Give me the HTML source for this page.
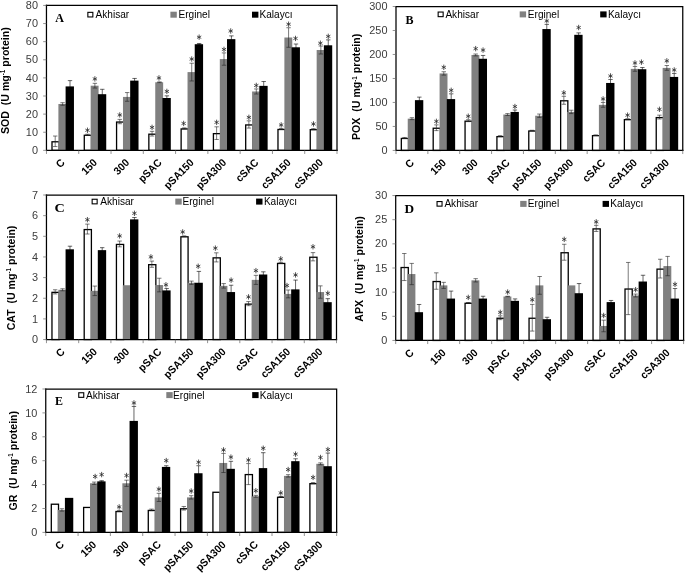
<!DOCTYPE html>
<html><head><meta charset="utf-8"><title>Figure</title>
<style>
html,body{margin:0;padding:0;background:#fff;}
svg{display:block;filter:grayscale(1);}
text{font-family:"Liberation Sans",sans-serif;}
.tk{font-size:10.2px;fill:#3c3c3c;text-anchor:end;}
.ct{font-size:10.8px;font-weight:bold;fill:#000;text-anchor:end;}
.yt{font-size:10.9px;font-weight:bold;fill:#000;text-anchor:end;}
.sup{font-size:6.5px;}
.lg{font-size:10.1px;fill:#000;}
.pl{font-family:"Liberation Serif",serif;font-weight:bold;font-size:12px;fill:#000;}
.as{stroke:#2a2a2a;stroke-width:0.8;stroke-linecap:round;fill:none;}
.st{font-family:"Liberation Serif",serif;font-size:13.5px;fill:#333;text-anchor:middle;}
</style></head><body>
<svg width="685" height="574" viewBox="0 0 685 574">
<rect width="685" height="574" fill="#fff"/>
<g>
<rect x="52" y="141.79" width="7.2" height="8.56" fill="#fff" stroke="#000" stroke-width="1.3"/>
<rect x="58.4" y="103.98" width="7.9" height="46.37" fill="#808080"/>
<rect x="65.6" y="86.41" width="8.35" height="63.94" fill="#000"/>
<rect x="84.28" y="135.27" width="7.2" height="15.08" fill="#fff" stroke="#000" stroke-width="1.3"/>
<rect x="90.68" y="85.69" width="7.9" height="64.66" fill="#808080"/>
<rect x="97.88" y="94.2" width="8.35" height="56.15" fill="#000"/>
<rect x="116.57" y="122.05" width="7.2" height="28.3" fill="#fff" stroke="#000" stroke-width="1.3"/>
<rect x="122.97" y="96.92" width="7.9" height="53.43" fill="#808080"/>
<rect x="130.17" y="80.62" width="8.35" height="69.73" fill="#000"/>
<rect x="148.85" y="134.19" width="7.2" height="16.16" fill="#fff" stroke="#000" stroke-width="1.3"/>
<rect x="155.25" y="82.25" width="7.9" height="68.1" fill="#808080"/>
<rect x="162.45" y="98" width="8.35" height="52.35" fill="#000"/>
<rect x="181.13" y="128.93" width="7.2" height="21.42" fill="#fff" stroke="#000" stroke-width="1.3"/>
<rect x="187.53" y="72.1" width="7.9" height="78.25" fill="#808080"/>
<rect x="194.73" y="44.21" width="8.35" height="106.14" fill="#000"/>
<rect x="213.41" y="133.64" width="7.2" height="16.71" fill="#fff" stroke="#000" stroke-width="1.3"/>
<rect x="219.81" y="59.06" width="7.9" height="91.29" fill="#808080"/>
<rect x="227.01" y="39.14" width="8.35" height="111.21" fill="#000"/>
<rect x="245.69" y="124.95" width="7.2" height="25.4" fill="#fff" stroke="#000" stroke-width="1.3"/>
<rect x="252.09" y="91.48" width="7.9" height="58.87" fill="#808080"/>
<rect x="259.29" y="85.87" width="8.35" height="64.48" fill="#000"/>
<rect x="277.98" y="129.48" width="7.2" height="20.87" fill="#fff" stroke="#000" stroke-width="1.3"/>
<rect x="284.38" y="37.51" width="7.9" height="112.84" fill="#808080"/>
<rect x="291.58" y="47.29" width="8.35" height="103.06" fill="#000"/>
<rect x="310.26" y="129.66" width="7.2" height="20.69" fill="#fff" stroke="#000" stroke-width="1.3"/>
<rect x="316.66" y="50.01" width="7.9" height="100.34" fill="#808080"/>
<rect x="323.86" y="45.3" width="8.35" height="105.05" fill="#000"/>
<path d="M55.2 136.04V146.55M53 136.04H57.4M53 146.55H57.4" stroke="#222" stroke-width="0.6" fill="none"/>
<path d="M62.6 102.71V105.25M60.4 102.71H64.8M60.4 105.25H64.8" stroke="#222" stroke-width="0.6" fill="none"/>
<path d="M70 80.62V92.21M67.8 80.62H72.2M67.8 92.21H72.2" stroke="#000" stroke-width="0.6" fill="none"/>
<path d="M87.48 134.23V135.32M85.28 134.23H89.68M85.28 135.32H89.68" stroke="#222" stroke-width="0.6" fill="none"/>
<path class="as" transform="translate(87.48 130.26)" d="M0 -2.3V2.3M-1.8 -1.05L1.8 1.05M-1.8 1.05L1.8 -1.05"/>
<path d="M94.88 83.33V88.04M92.68 83.33H97.08M92.68 88.04H97.08" stroke="#222" stroke-width="0.6" fill="none"/>
<path class="as" transform="translate(94.88 78.9)" d="M0 -2.3V2.3M-1.8 -1.05L1.8 1.05M-1.8 1.05L1.8 -1.05"/>
<path d="M102.28 89.31V99.09M100.08 89.31H104.48M100.08 99.09H104.48" stroke="#000" stroke-width="0.6" fill="none"/>
<path d="M119.77 119.38V123.72M117.57 119.38H121.97M117.57 123.72H121.97" stroke="#222" stroke-width="0.6" fill="none"/>
<path class="as" transform="translate(119.77 114.94)" d="M0 -2.3V2.3M-1.8 -1.05L1.8 1.05M-1.8 1.05L1.8 -1.05"/>
<path d="M127.17 92.57V101.27M124.97 92.57H129.37M124.97 101.27H129.37" stroke="#222" stroke-width="0.6" fill="none"/>
<path d="M134.57 78.44V82.79M132.37 78.44H136.77M132.37 82.79H136.77" stroke="#000" stroke-width="0.6" fill="none"/>
<path d="M152.05 131.33V136.04M149.85 131.33H154.25M149.85 136.04H154.25" stroke="#222" stroke-width="0.6" fill="none"/>
<path class="as" transform="translate(152.05 127.36)" d="M0 -2.3V2.3M-1.8 -1.05L1.8 1.05M-1.8 1.05L1.8 -1.05"/>
<path d="M159.45 81.88V82.61M157.25 81.88H161.65M157.25 82.61H161.65" stroke="#222" stroke-width="0.6" fill="none"/>
<path class="as" transform="translate(158.98 77.92)" d="M0 -2.3V2.3M-1.8 -1.05L1.8 1.05M-1.8 1.05L1.8 -1.05"/>
<path d="M166.85 95.83V100.18M164.65 95.83H169.05M164.65 100.18H169.05" stroke="#000" stroke-width="0.6" fill="none"/>
<path class="as" transform="translate(166.85 91.4)" d="M0 -2.3V2.3M-1.8 -1.05L1.8 1.05M-1.8 1.05L1.8 -1.05"/>
<path d="M184.33 127.89V128.98M182.13 127.89H186.53M182.13 128.98H186.53" stroke="#222" stroke-width="0.6" fill="none"/>
<path class="as" transform="translate(183.63 123.46)" d="M0 -2.3V2.3M-1.8 -1.05L1.8 1.05M-1.8 1.05L1.8 -1.05"/>
<path d="M191.73 63.23V80.98M189.53 63.23H193.93M189.53 80.98H193.93" stroke="#222" stroke-width="0.6" fill="none"/>
<path class="as" transform="translate(191.73 59.03)" d="M0 -2.3V2.3M-1.8 -1.05L1.8 1.05M-1.8 1.05L1.8 -1.05"/>
<path d="M199.13 43.49V44.94M196.93 43.49H201.33M196.93 44.94H201.33" stroke="#000" stroke-width="0.6" fill="none"/>
<path class="as" transform="translate(199.13 37.18)" d="M0 -2.3V2.3M-1.8 -1.05L1.8 1.05M-1.8 1.05L1.8 -1.05"/>
<path d="M216.61 126.8V139.48M214.41 126.8H218.81M214.41 139.48H218.81" stroke="#222" stroke-width="0.6" fill="none"/>
<path class="as" transform="translate(216.61 122.37)" d="M0 -2.3V2.3M-1.8 -1.05L1.8 1.05M-1.8 1.05L1.8 -1.05"/>
<path d="M224.01 52.9V65.22M221.81 52.9H226.21M221.81 65.22H226.21" stroke="#222" stroke-width="0.6" fill="none"/>
<path class="as" transform="translate(224.01 49.4)" d="M0 -2.3V2.3M-1.8 -1.05L1.8 1.05M-1.8 1.05L1.8 -1.05"/>
<path d="M231.41 35.88V42.4M229.21 35.88H233.61M229.21 42.4H233.61" stroke="#000" stroke-width="0.6" fill="none"/>
<path class="as" transform="translate(230.71 30.98)" d="M0 -2.3V2.3M-1.8 -1.05L1.8 1.05M-1.8 1.05L1.8 -1.05"/>
<path d="M248.89 120.83V128.07M246.69 120.83H251.09M246.69 128.07H251.09" stroke="#222" stroke-width="0.6" fill="none"/>
<path class="as" transform="translate(248.89 117.33)" d="M0 -2.3V2.3M-1.8 -1.05L1.8 1.05M-1.8 1.05L1.8 -1.05"/>
<path d="M256.29 88.95V94.02M254.09 88.95H258.49M254.09 94.02H258.49" stroke="#222" stroke-width="0.6" fill="none"/>
<path class="as" transform="translate(256.29 85.45)" d="M0 -2.3V2.3M-1.8 -1.05L1.8 1.05M-1.8 1.05L1.8 -1.05"/>
<path d="M263.69 81.52V90.22M261.49 81.52H265.89M261.49 90.22H265.89" stroke="#000" stroke-width="0.6" fill="none"/>
<path d="M281.18 128.43V129.52M278.98 128.43H283.38M278.98 129.52H283.38" stroke="#222" stroke-width="0.6" fill="none"/>
<path class="as" transform="translate(281.18 124.93)" d="M0 -2.3V2.3M-1.8 -1.05L1.8 1.05M-1.8 1.05L1.8 -1.05"/>
<path d="M288.58 27.73V47.29M286.38 27.73H290.78M286.38 47.29H290.78" stroke="#222" stroke-width="0.6" fill="none"/>
<path class="as" transform="translate(288.58 24.23)" d="M0 -2.3V2.3M-1.8 -1.05L1.8 1.05M-1.8 1.05L1.8 -1.05"/>
<path d="M295.98 44.03V50.55M293.78 44.03H298.18M293.78 50.55H298.18" stroke="#000" stroke-width="0.6" fill="none"/>
<path class="as" transform="translate(295.51 38.43)" d="M0 -2.3V2.3M-1.8 -1.05L1.8 1.05M-1.8 1.05L1.8 -1.05"/>
<path d="M313.46 128.62V129.7M311.26 128.62H315.66M311.26 129.7H315.66" stroke="#222" stroke-width="0.6" fill="none"/>
<path class="as" transform="translate(313.46 123.95)" d="M0 -2.3V2.3M-1.8 -1.05L1.8 1.05M-1.8 1.05L1.8 -1.05"/>
<path d="M320.86 46.02V53.99M318.66 46.02H323.06M318.66 53.99H323.06" stroke="#222" stroke-width="0.6" fill="none"/>
<path class="as" transform="translate(320.39 43.22)" d="M0 -2.3V2.3M-1.8 -1.05L1.8 1.05M-1.8 1.05L1.8 -1.05"/>
<path d="M328.26 39.86V50.73M326.06 39.86H330.46M326.06 50.73H330.46" stroke="#000" stroke-width="0.6" fill="none"/>
<path class="as" transform="translate(328.26 36.36)" d="M0 -2.3V2.3M-1.8 -1.05L1.8 1.05M-1.8 1.05L1.8 -1.05"/>
<path d="M46.46 5.45H337V150.35" stroke="#000" stroke-width="1.25" fill="none" stroke-linecap="square"/>
<path d="M46.46 5.45V150.35H337" stroke="#000" stroke-width="1.25" fill="none" stroke-linecap="square"/>
<text class="tk" transform="translate(37.96 153.95) scale(1.07 1)">0</text>
<text class="tk" transform="translate(37.96 135.84) scale(1.07 1)">10</text>
<text class="tk" transform="translate(37.96 117.72) scale(1.07 1)">20</text>
<text class="tk" transform="translate(37.96 99.61) scale(1.07 1)">30</text>
<text class="tk" transform="translate(37.96 81.5) scale(1.07 1)">40</text>
<text class="tk" transform="translate(37.96 63.39) scale(1.07 1)">50</text>
<text class="tk" transform="translate(37.96 45.27) scale(1.07 1)">60</text>
<text class="tk" transform="translate(37.96 27.16) scale(1.07 1)">70</text>
<text class="tk" transform="translate(37.96 9.05) scale(1.07 1)">80</text>
<path d="M43.16 150.35H46.46M43.16 132.24H46.46M43.16 114.12H46.46M43.16 96.01H46.46M43.16 77.9H46.46M43.16 59.79H46.46M43.16 41.67H46.46M43.16 23.56H46.46M43.16 5.45H46.46M46.46 150.35V153.95M78.74 150.35V153.95M111.02 150.35V153.95M143.31 150.35V153.95M175.59 150.35V153.95M207.87 150.35V153.95M240.15 150.35V153.95M272.44 150.35V153.95M304.72 150.35V153.95M337 150.35V153.95" stroke="#666" stroke-width="0.7" fill="none"/>
<text class="ct" transform="translate(65.5 163.35) rotate(-45) scale(0.945 1)">C</text>
<text class="ct" transform="translate(97.78 163.35) rotate(-45) scale(0.945 1)">150</text>
<text class="ct" transform="translate(130.07 163.35) rotate(-45) scale(0.945 1)">300</text>
<text class="ct" transform="translate(162.35 163.35) rotate(-45) scale(0.945 1)">pSAC</text>
<text class="ct" transform="translate(194.63 163.35) rotate(-45) scale(0.945 1)">pSA150</text>
<text class="ct" transform="translate(226.91 163.35) rotate(-45) scale(0.945 1)">pSA300</text>
<text class="ct" transform="translate(259.19 163.35) rotate(-45) scale(0.945 1)">cSAC</text>
<text class="ct" transform="translate(291.48 163.35) rotate(-45) scale(0.945 1)">cSA150</text>
<text class="ct" transform="translate(323.76 163.35) rotate(-45) scale(0.945 1)">cSA300</text>
<text class="yt" transform="translate(9 27.3) rotate(-90) scale(0.972 1)">SOD&#160;&#160;(U mg<tspan class="sup" dy="-3.8">-1</tspan><tspan dy="3.8"> protein)</tspan></text>
<rect x="87.85" y="12.35" width="5.0" height="4.6" fill="#fff" stroke="#000" stroke-width="1.1"/>
<text class="lg" x="95.5" y="18.1">Akhisar</text>
<rect x="170.4" y="11.7" width="6.4" height="6.0" fill="#808080"/>
<text class="lg" x="178.5" y="18.1">Erginel</text>
<rect x="252" y="11.7" width="6.4" height="6.0" fill="#000"/>
<text class="lg" x="259.5" y="18.1">Kalaycı</text>
<text class="pl" style="font-size:12px" transform="translate(55.3 22) scale(1 1)">A</text>
</g>
<g>
<rect x="401.33" y="138.46" width="7.2" height="11.97" fill="#fff" stroke="#000" stroke-width="1.3"/>
<rect x="407.73" y="118.67" width="7.9" height="31.76" fill="#808080"/>
<rect x="414.93" y="100.15" width="8.35" height="50.28" fill="#000"/>
<rect x="433.19" y="128.24" width="7.2" height="22.19" fill="#fff" stroke="#000" stroke-width="1.3"/>
<rect x="439.59" y="73.43" width="7.9" height="77" fill="#808080"/>
<rect x="446.79" y="99.09" width="8.35" height="51.34" fill="#000"/>
<rect x="465.06" y="121.18" width="7.2" height="29.25" fill="#fff" stroke="#000" stroke-width="1.3"/>
<rect x="471.46" y="54.96" width="7.9" height="95.47" fill="#808080"/>
<rect x="478.66" y="58.79" width="8.35" height="91.64" fill="#000"/>
<rect x="496.92" y="136.63" width="7.2" height="13.8" fill="#fff" stroke="#000" stroke-width="1.3"/>
<rect x="503.32" y="114.54" width="7.9" height="35.89" fill="#808080"/>
<rect x="510.52" y="111.95" width="8.35" height="38.48" fill="#000"/>
<rect x="528.78" y="131.02" width="7.2" height="19.41" fill="#fff" stroke="#000" stroke-width="1.3"/>
<rect x="535.18" y="115.74" width="7.9" height="34.69" fill="#808080"/>
<rect x="542.38" y="29.05" width="8.35" height="121.38" fill="#000"/>
<rect x="560.64" y="100.79" width="7.2" height="49.64" fill="#fff" stroke="#000" stroke-width="1.3"/>
<rect x="567.04" y="111.9" width="7.9" height="38.53" fill="#808080"/>
<rect x="574.24" y="34.81" width="8.35" height="115.62" fill="#000"/>
<rect x="592.5" y="135.67" width="7.2" height="14.76" fill="#fff" stroke="#000" stroke-width="1.3"/>
<rect x="598.9" y="104.85" width="7.9" height="45.58" fill="#808080"/>
<rect x="606.1" y="82.97" width="8.35" height="67.46" fill="#000"/>
<rect x="624.37" y="119.65" width="7.2" height="30.78" fill="#fff" stroke="#000" stroke-width="1.3"/>
<rect x="630.77" y="68.87" width="7.9" height="81.56" fill="#808080"/>
<rect x="637.97" y="69.21" width="8.35" height="81.22" fill="#000"/>
<rect x="656.23" y="117.59" width="7.2" height="32.84" fill="#fff" stroke="#000" stroke-width="1.3"/>
<rect x="662.63" y="67.91" width="7.9" height="82.52" fill="#808080"/>
<rect x="669.83" y="76.93" width="8.35" height="73.5" fill="#000"/>
<path d="M404.53 137.48V138.44M402.33 137.48H406.73M402.33 138.44H406.73" stroke="#222" stroke-width="0.6" fill="none"/>
<path d="M411.93 117.71V119.63M409.73 117.71H414.13M409.73 119.63H414.13" stroke="#222" stroke-width="0.6" fill="none"/>
<path d="M419.33 97.13V103.17M417.13 97.13H421.53M417.13 103.17H421.53" stroke="#000" stroke-width="0.6" fill="none"/>
<path d="M436.39 124.86V130.62M434.19 124.86H438.59M434.19 130.62H438.59" stroke="#222" stroke-width="0.6" fill="none"/>
<path class="as" transform="translate(436.39 121.36)" d="M0 -2.3V2.3M-1.8 -1.05L1.8 1.05M-1.8 1.05L1.8 -1.05"/>
<path d="M443.79 71.75V75.11M441.59 71.75H445.99M441.59 75.11H445.99" stroke="#222" stroke-width="0.6" fill="none"/>
<path class="as" transform="translate(443.79 67.31)" d="M0 -2.3V2.3M-1.8 -1.05L1.8 1.05M-1.8 1.05L1.8 -1.05"/>
<path d="M451.19 93.82V104.37M448.99 93.82H453.39M448.99 104.37H453.39" stroke="#000" stroke-width="0.6" fill="none"/>
<path class="as" transform="translate(451.19 90.32)" d="M0 -2.3V2.3M-1.8 -1.05L1.8 1.05M-1.8 1.05L1.8 -1.05"/>
<path d="M468.26 119.72V121.64M466.06 119.72H470.46M466.06 121.64H470.46" stroke="#222" stroke-width="0.6" fill="none"/>
<path class="as" transform="translate(468.26 116.22)" d="M0 -2.3V2.3M-1.8 -1.05L1.8 1.05M-1.8 1.05L1.8 -1.05"/>
<path d="M475.66 54V55.92M473.46 54H477.86M473.46 55.92H477.86" stroke="#222" stroke-width="0.6" fill="none"/>
<path class="as" transform="translate(475.66 48.63)" d="M0 -2.3V2.3M-1.8 -1.05L1.8 1.05M-1.8 1.05L1.8 -1.05"/>
<path d="M483.06 55.44V62.15M480.86 55.44H485.26M480.86 62.15H485.26" stroke="#000" stroke-width="0.6" fill="none"/>
<path class="as" transform="translate(483.06 50.07)" d="M0 -2.3V2.3M-1.8 -1.05L1.8 1.05M-1.8 1.05L1.8 -1.05"/>
<path d="M500.12 135.65V136.61M497.92 135.65H502.32M497.92 136.61H502.32" stroke="#222" stroke-width="0.6" fill="none"/>
<path d="M507.52 113.58V115.5M505.32 113.58H509.72M505.32 115.5H509.72" stroke="#222" stroke-width="0.6" fill="none"/>
<path d="M514.92 110.03V113.87M512.72 110.03H517.12M512.72 113.87H517.12" stroke="#000" stroke-width="0.6" fill="none"/>
<path class="as" transform="translate(514.92 106.53)" d="M0 -2.3V2.3M-1.8 -1.05L1.8 1.05M-1.8 1.05L1.8 -1.05"/>
<path d="M531.98 130.28V130.76M529.78 130.28H534.18M529.78 130.76H534.18" stroke="#222" stroke-width="0.6" fill="none"/>
<path d="M539.38 114.06V117.42M537.18 114.06H541.58M537.18 117.42H541.58" stroke="#222" stroke-width="0.6" fill="none"/>
<path d="M546.78 24.4V33.7M544.58 24.4H548.98M544.58 33.7H548.98" stroke="#000" stroke-width="0.6" fill="none"/>
<path class="as" transform="translate(546.78 20.9)" d="M0 -2.3V2.3M-1.8 -1.05L1.8 1.05M-1.8 1.05L1.8 -1.05"/>
<path d="M563.84 96.31V104.28M561.64 96.31H566.04M561.64 104.28H566.04" stroke="#222" stroke-width="0.6" fill="none"/>
<path class="as" transform="translate(563.84 92.81)" d="M0 -2.3V2.3M-1.8 -1.05L1.8 1.05M-1.8 1.05L1.8 -1.05"/>
<path d="M571.24 110.23V113.58M569.04 110.23H573.44M569.04 113.58H573.44" stroke="#222" stroke-width="0.6" fill="none"/>
<path d="M578.64 32.89V36.73M576.44 32.89H580.84M576.44 36.73H580.84" stroke="#000" stroke-width="0.6" fill="none"/>
<path class="as" transform="translate(578.64 27.52)" d="M0 -2.3V2.3M-1.8 -1.05L1.8 1.05M-1.8 1.05L1.8 -1.05"/>
<path d="M595.7 134.93V135.41M593.5 134.93H597.9M593.5 135.41H597.9" stroke="#222" stroke-width="0.6" fill="none"/>
<path d="M603.1 102.45V107.25M600.9 102.45H605.3M600.9 107.25H605.3" stroke="#222" stroke-width="0.6" fill="none"/>
<path class="as" transform="translate(603.1 98.95)" d="M0 -2.3V2.3M-1.8 -1.05L1.8 1.05M-1.8 1.05L1.8 -1.05"/>
<path d="M610.5 79.47V86.48M608.3 79.47H612.7M608.3 86.48H612.7" stroke="#000" stroke-width="0.6" fill="none"/>
<path class="as" transform="translate(610.5 75.97)" d="M0 -2.3V2.3M-1.8 -1.05L1.8 1.05M-1.8 1.05L1.8 -1.05"/>
<path d="M627.57 118.67V119.63M625.37 118.67H629.77M625.37 119.63H629.77" stroke="#222" stroke-width="0.6" fill="none"/>
<path class="as" transform="translate(627.57 115.17)" d="M0 -2.3V2.3M-1.8 -1.05L1.8 1.05M-1.8 1.05L1.8 -1.05"/>
<path d="M634.97 66.47V71.27M632.77 66.47H637.17M632.77 71.27H637.17" stroke="#222" stroke-width="0.6" fill="none"/>
<path class="as" transform="translate(634.97 62.97)" d="M0 -2.3V2.3M-1.8 -1.05L1.8 1.05M-1.8 1.05L1.8 -1.05"/>
<path d="M642.37 67.53V70.88M640.17 67.53H644.57M640.17 70.88H644.57" stroke="#000" stroke-width="0.6" fill="none"/>
<path class="as" transform="translate(641.43 62.16)" d="M0 -2.3V2.3M-1.8 -1.05L1.8 1.05M-1.8 1.05L1.8 -1.05"/>
<path d="M659.43 115.17V119.01M657.23 115.17H661.63M657.23 119.01H661.63" stroke="#222" stroke-width="0.6" fill="none"/>
<path class="as" transform="translate(659.43 109.33)" d="M0 -2.3V2.3M-1.8 -1.05L1.8 1.05M-1.8 1.05L1.8 -1.05"/>
<path d="M666.83 65.51V70.31M664.63 65.51H669.03M664.63 70.31H669.03" stroke="#222" stroke-width="0.6" fill="none"/>
<path class="as" transform="translate(666.83 60.84)" d="M0 -2.3V2.3M-1.8 -1.05L1.8 1.05M-1.8 1.05L1.8 -1.05"/>
<path d="M674.23 73.43V80.43M672.03 73.43H676.43M672.03 80.43H676.43" stroke="#000" stroke-width="0.6" fill="none"/>
<path class="as" transform="translate(674.23 69.93)" d="M0 -2.3V2.3M-1.8 -1.05L1.8 1.05M-1.8 1.05L1.8 -1.05"/>
<path d="M396 6.5H682.76V150.43" stroke="#000" stroke-width="1.25" fill="none" stroke-linecap="square"/>
<path d="M396 6.5V150.43H682.76" stroke="#000" stroke-width="1.25" fill="none" stroke-linecap="square"/>
<text class="tk" transform="translate(387.5 154.03) scale(1.07 1)">0</text>
<text class="tk" transform="translate(387.5 130.04) scale(1.07 1)">50</text>
<text class="tk" transform="translate(387.5 106.05) scale(1.07 1)">100</text>
<text class="tk" transform="translate(387.5 82.06) scale(1.07 1)">150</text>
<text class="tk" transform="translate(387.5 58.08) scale(1.07 1)">200</text>
<text class="tk" transform="translate(387.5 34.09) scale(1.07 1)">250</text>
<text class="tk" transform="translate(387.5 10.1) scale(1.07 1)">300</text>
<path d="M392.7 150.43H396M392.7 126.44H396M392.7 102.45H396M392.7 78.47H396M392.7 54.48H396M392.7 30.49H396M392.7 6.5H396M396 150.43V154.03M427.86 150.43V154.03M459.72 150.43V154.03M491.59 150.43V154.03M523.45 150.43V154.03M555.31 150.43V154.03M587.17 150.43V154.03M619.04 150.43V154.03M650.9 150.43V154.03M682.76 150.43V154.03" stroke="#666" stroke-width="0.7" fill="none"/>
<text class="ct" transform="translate(414.83 163.43) rotate(-45) scale(0.945 1)">C</text>
<text class="ct" transform="translate(446.69 163.43) rotate(-45) scale(0.945 1)">150</text>
<text class="ct" transform="translate(478.56 163.43) rotate(-45) scale(0.945 1)">300</text>
<text class="ct" transform="translate(510.42 163.43) rotate(-45) scale(0.945 1)">pSAC</text>
<text class="ct" transform="translate(542.28 163.43) rotate(-45) scale(0.945 1)">pSA150</text>
<text class="ct" transform="translate(574.14 163.43) rotate(-45) scale(0.945 1)">pSA300</text>
<text class="ct" transform="translate(606 163.43) rotate(-45) scale(0.945 1)">cSAC</text>
<text class="ct" transform="translate(637.87 163.43) rotate(-45) scale(0.945 1)">cSA150</text>
<text class="ct" transform="translate(669.73 163.43) rotate(-45) scale(0.945 1)">cSA300</text>
<text class="yt" transform="translate(360.3 33.8) rotate(-90) scale(0.972 1)">POX&#160;&#160;(U mg<tspan class="sup" dy="-3.8">-1</tspan><tspan dy="3.8"> protein)</tspan></text>
<rect x="438.15" y="12.05" width="5.0" height="4.6" fill="#fff" stroke="#000" stroke-width="1.1"/>
<text class="lg" x="445.4" y="17.8">Akhisar</text>
<rect x="519.7" y="11.4" width="6.4" height="6.0" fill="#808080"/>
<text class="lg" x="527.8" y="17.8">Erginel</text>
<rect x="600.2" y="11.4" width="6.4" height="6.0" fill="#000"/>
<text class="lg" x="607.9" y="17.8">Kalaycı</text>
<text class="pl" style="font-size:12px" transform="translate(405.5 23.8) scale(1 1)">B</text>
</g>
<g>
<rect x="51.97" y="292.35" width="7.2" height="47.2" fill="#fff" stroke="#000" stroke-width="1.3"/>
<rect x="58.37" y="289.78" width="7.9" height="49.77" fill="#808080"/>
<rect x="65.57" y="249.31" width="8.35" height="90.24" fill="#000"/>
<rect x="84.2" y="229.57" width="7.2" height="109.98" fill="#fff" stroke="#000" stroke-width="1.3"/>
<rect x="90.6" y="290.82" width="7.9" height="48.73" fill="#808080"/>
<rect x="97.8" y="250.14" width="8.35" height="89.41" fill="#000"/>
<rect x="116.43" y="244.44" width="7.2" height="95.11" fill="#fff" stroke="#000" stroke-width="1.3"/>
<rect x="122.83" y="285.24" width="7.9" height="54.31" fill="#808080"/>
<rect x="130.03" y="219.37" width="8.35" height="120.18" fill="#000"/>
<rect x="148.65" y="264.68" width="7.2" height="74.87" fill="#fff" stroke="#000" stroke-width="1.3"/>
<rect x="155.05" y="285.03" width="7.9" height="54.52" fill="#808080"/>
<rect x="162.25" y="290.4" width="8.35" height="49.15" fill="#000"/>
<rect x="180.88" y="236.8" width="7.2" height="102.75" fill="#fff" stroke="#000" stroke-width="1.3"/>
<rect x="187.28" y="282.76" width="7.9" height="56.79" fill="#808080"/>
<rect x="194.48" y="282.76" width="8.35" height="56.79" fill="#000"/>
<rect x="213.11" y="257.86" width="7.2" height="81.69" fill="#fff" stroke="#000" stroke-width="1.3"/>
<rect x="219.51" y="285.86" width="7.9" height="53.69" fill="#808080"/>
<rect x="226.71" y="292.06" width="8.35" height="47.5" fill="#000"/>
<rect x="245.33" y="304.12" width="7.2" height="35.43" fill="#fff" stroke="#000" stroke-width="1.3"/>
<rect x="251.73" y="279.87" width="7.9" height="59.68" fill="#808080"/>
<rect x="258.93" y="274.5" width="8.35" height="65.05" fill="#000"/>
<rect x="277.56" y="263.44" width="7.2" height="76.11" fill="#fff" stroke="#000" stroke-width="1.3"/>
<rect x="283.96" y="293.91" width="7.9" height="45.64" fill="#808080"/>
<rect x="291.16" y="289.37" width="8.35" height="50.18" fill="#000"/>
<rect x="309.79" y="257.24" width="7.2" height="82.31" fill="#fff" stroke="#000" stroke-width="1.3"/>
<rect x="316.19" y="292.06" width="7.9" height="47.5" fill="#808080"/>
<rect x="323.39" y="302.17" width="8.35" height="37.38" fill="#000"/>
<path d="M55.17 289.78V293.91M52.97 289.78H57.37M52.97 293.91H57.37" stroke="#222" stroke-width="0.6" fill="none"/>
<path d="M62.57 288.75V290.82M60.37 288.75H64.77M60.37 290.82H64.77" stroke="#222" stroke-width="0.6" fill="none"/>
<path d="M69.97 246.21V252.41M67.77 246.21H72.17M67.77 252.41H72.17" stroke="#000" stroke-width="0.6" fill="none"/>
<path d="M87.4 224.12V234.03M85.2 224.12H89.6M85.2 234.03H89.6" stroke="#222" stroke-width="0.6" fill="none"/>
<path class="as" transform="translate(87.4 219.68)" d="M0 -2.3V2.3M-1.8 -1.05L1.8 1.05M-1.8 1.05L1.8 -1.05"/>
<path d="M94.8 286.07V295.57M92.6 286.07H97M92.6 295.57H97" stroke="#222" stroke-width="0.6" fill="none"/>
<path d="M102.2 247.66V252.61M100 247.66H104.4M100 252.61H104.4" stroke="#000" stroke-width="0.6" fill="none"/>
<path d="M119.63 241.05V246.83M117.43 241.05H121.83M117.43 246.83H121.83" stroke="#222" stroke-width="0.6" fill="none"/>
<path class="as" transform="translate(119.63 235.91)" d="M0 -2.3V2.3M-1.8 -1.05L1.8 1.05M-1.8 1.05L1.8 -1.05"/>
<path d="M134.43 217.51V221.23M132.23 217.51H136.63M132.23 221.23H136.63" stroke="#000" stroke-width="0.6" fill="none"/>
<path class="as" transform="translate(134.43 213.31)" d="M0 -2.3V2.3M-1.8 -1.05L1.8 1.05M-1.8 1.05L1.8 -1.05"/>
<path d="M151.85 261.08V267.27M149.65 261.08H154.05M149.65 267.27H154.05" stroke="#222" stroke-width="0.6" fill="none"/>
<path class="as" transform="translate(150.92 256.88)" d="M0 -2.3V2.3M-1.8 -1.05L1.8 1.05M-1.8 1.05L1.8 -1.05"/>
<path d="M159.25 278.22V291.85M157.05 278.22H161.45M157.05 291.85H161.45" stroke="#222" stroke-width="0.6" fill="none"/>
<path d="M166.65 288.54V292.26M164.45 288.54H168.85M164.45 292.26H168.85" stroke="#000" stroke-width="0.6" fill="none"/>
<path class="as" transform="translate(165.95 284.81)" d="M0 -2.3V2.3M-1.8 -1.05L1.8 1.05M-1.8 1.05L1.8 -1.05"/>
<path d="M184.08 235.89V236.71M181.88 235.89H186.28M181.88 236.71H186.28" stroke="#222" stroke-width="0.6" fill="none"/>
<path class="as" transform="translate(182.68 231.92)" d="M0 -2.3V2.3M-1.8 -1.05L1.8 1.05M-1.8 1.05L1.8 -1.05"/>
<path d="M191.48 281.11V284.41M189.28 281.11H193.68M189.28 284.41H193.68" stroke="#222" stroke-width="0.6" fill="none"/>
<path d="M198.88 271.4V294.12M196.68 271.4H201.08M196.68 294.12H201.08" stroke="#000" stroke-width="0.6" fill="none"/>
<path class="as" transform="translate(198.18 266.27)" d="M0 -2.3V2.3M-1.8 -1.05L1.8 1.05M-1.8 1.05L1.8 -1.05"/>
<path d="M216.31 252.82V261.91M214.11 252.82H218.51M214.11 261.91H218.51" stroke="#222" stroke-width="0.6" fill="none"/>
<path class="as" transform="translate(215.37 248.15)" d="M0 -2.3V2.3M-1.8 -1.05L1.8 1.05M-1.8 1.05L1.8 -1.05"/>
<path d="M223.71 283.59V288.13M221.51 283.59H225.91M221.51 288.13H225.91" stroke="#222" stroke-width="0.6" fill="none"/>
<path d="M231.11 285.24V298.87M228.91 285.24H233.31M228.91 298.87H233.31" stroke="#000" stroke-width="0.6" fill="none"/>
<path class="as" transform="translate(231.11 280.11)" d="M0 -2.3V2.3M-1.8 -1.05L1.8 1.05M-1.8 1.05L1.8 -1.05"/>
<path d="M248.53 301.55V305.68M246.33 301.55H250.73M246.33 305.68H250.73" stroke="#222" stroke-width="0.6" fill="none"/>
<path class="as" transform="translate(248.53 296.89)" d="M0 -2.3V2.3M-1.8 -1.05L1.8 1.05M-1.8 1.05L1.8 -1.05"/>
<path d="M255.93 275.33V284.41M253.73 275.33H258.13M253.73 284.41H258.13" stroke="#222" stroke-width="0.6" fill="none"/>
<path class="as" transform="translate(255.93 270.66)" d="M0 -2.3V2.3M-1.8 -1.05L1.8 1.05M-1.8 1.05L1.8 -1.05"/>
<path d="M263.33 271.82V277.19M261.13 271.82H265.53M261.13 277.19H265.53" stroke="#000" stroke-width="0.6" fill="none"/>
<path d="M280.76 262.32V263.56M278.56 262.32H282.96M278.56 263.56H282.96" stroke="#222" stroke-width="0.6" fill="none"/>
<path class="as" transform="translate(280.76 258.82)" d="M0 -2.3V2.3M-1.8 -1.05L1.8 1.05M-1.8 1.05L1.8 -1.05"/>
<path d="M288.16 289.99V297.84M285.96 289.99H290.36M285.96 297.84H290.36" stroke="#222" stroke-width="0.6" fill="none"/>
<path class="as" transform="translate(286.99 285.56)" d="M0 -2.3V2.3M-1.8 -1.05L1.8 1.05M-1.8 1.05L1.8 -1.05"/>
<path d="M295.56 280.08V298.66M293.36 280.08H297.76M293.36 298.66H297.76" stroke="#000" stroke-width="0.6" fill="none"/>
<path class="as" transform="translate(295.56 274.94)" d="M0 -2.3V2.3M-1.8 -1.05L1.8 1.05M-1.8 1.05L1.8 -1.05"/>
<path d="M312.99 252.61V260.87M310.79 252.61H315.19M310.79 260.87H315.19" stroke="#222" stroke-width="0.6" fill="none"/>
<path class="as" transform="translate(312.99 246.78)" d="M0 -2.3V2.3M-1.8 -1.05L1.8 1.05M-1.8 1.05L1.8 -1.05"/>
<path d="M320.39 285.86V298.25M318.19 285.86H322.59M318.19 298.25H322.59" stroke="#222" stroke-width="0.6" fill="none"/>
<path d="M327.79 298.66V305.68M325.59 298.66H329.99M325.59 305.68H329.99" stroke="#000" stroke-width="0.6" fill="none"/>
<path class="as" transform="translate(327.79 293.29)" d="M0 -2.3V2.3M-1.8 -1.05L1.8 1.05M-1.8 1.05L1.8 -1.05"/>
<path d="M46.46 195H336.5V339.55" stroke="#000" stroke-width="1.25" fill="none" stroke-linecap="square"/>
<path d="M46.46 195V339.55H336.5" stroke="#000" stroke-width="1.25" fill="none" stroke-linecap="square"/>
<text class="tk" transform="translate(37.96 343.15) scale(1.07 1)">0</text>
<text class="tk" transform="translate(37.96 322.5) scale(1.07 1)">1</text>
<text class="tk" transform="translate(37.96 301.85) scale(1.07 1)">2</text>
<text class="tk" transform="translate(37.96 281.2) scale(1.07 1)">3</text>
<text class="tk" transform="translate(37.96 260.55) scale(1.07 1)">4</text>
<text class="tk" transform="translate(37.96 239.9) scale(1.07 1)">5</text>
<text class="tk" transform="translate(37.96 219.25) scale(1.07 1)">6</text>
<text class="tk" transform="translate(37.96 198.6) scale(1.07 1)">7</text>
<path d="M43.16 339.55H46.46M43.16 318.9H46.46M43.16 298.25H46.46M43.16 277.6H46.46M43.16 256.95H46.46M43.16 236.3H46.46M43.16 215.65H46.46M43.16 195H46.46M46.46 339.55V343.15M78.69 339.55V343.15M110.91 339.55V343.15M143.14 339.55V343.15M175.37 339.55V343.15M207.59 339.55V343.15M239.82 339.55V343.15M272.05 339.55V343.15M304.27 339.55V343.15M336.5 339.55V343.15" stroke="#666" stroke-width="0.7" fill="none"/>
<text class="ct" transform="translate(65.47 352.55) rotate(-45) scale(0.945 1)">C</text>
<text class="ct" transform="translate(97.7 352.55) rotate(-45) scale(0.945 1)">150</text>
<text class="ct" transform="translate(129.93 352.55) rotate(-45) scale(0.945 1)">300</text>
<text class="ct" transform="translate(162.15 352.55) rotate(-45) scale(0.945 1)">pSAC</text>
<text class="ct" transform="translate(194.38 352.55) rotate(-45) scale(0.945 1)">pSA150</text>
<text class="ct" transform="translate(226.61 352.55) rotate(-45) scale(0.945 1)">pSA300</text>
<text class="ct" transform="translate(258.83 352.55) rotate(-45) scale(0.945 1)">cSAC</text>
<text class="ct" transform="translate(291.06 352.55) rotate(-45) scale(0.945 1)">cSA150</text>
<text class="ct" transform="translate(323.29 352.55) rotate(-45) scale(0.945 1)">cSA300</text>
<text class="yt" transform="translate(14.85 225.6) rotate(-90) scale(0.972 1)">CAT&#160;&#160;(U mg<tspan class="sup" dy="-3.8">-1</tspan><tspan dy="3.8"> protein)</tspan></text>
<rect x="92.15" y="199.25" width="5.0" height="4.6" fill="#fff" stroke="#000" stroke-width="1.1"/>
<text class="lg" x="100.3" y="205">Akhisar</text>
<rect x="175.3" y="198.6" width="6.4" height="6.0" fill="#808080"/>
<text class="lg" x="182.5" y="205">Erginel</text>
<rect x="256.1" y="198.6" width="6.4" height="6.0" fill="#000"/>
<text class="lg" x="263.9" y="205">Kalaycı</text>
<text class="pl" style="font-size:13.3px" transform="translate(54.6 211.5) scale(1.07 1)">C</text>
</g>
<g>
<rect x="401.09" y="267.53" width="7.2" height="72.92" fill="#fff" stroke="#000" stroke-width="1.3"/>
<rect x="407.49" y="274.04" width="7.9" height="66.41" fill="#808080"/>
<rect x="414.69" y="312.19" width="8.35" height="28.26" fill="#000"/>
<rect x="433.08" y="281.54" width="7.2" height="58.91" fill="#fff" stroke="#000" stroke-width="1.3"/>
<rect x="439.48" y="285.39" width="7.9" height="55.06" fill="#808080"/>
<rect x="446.68" y="298.57" width="8.35" height="41.88" fill="#000"/>
<rect x="465.07" y="303.28" width="7.2" height="37.17" fill="#fff" stroke="#000" stroke-width="1.3"/>
<rect x="471.47" y="280.32" width="7.9" height="60.13" fill="#808080"/>
<rect x="478.67" y="298.57" width="8.35" height="41.88" fill="#000"/>
<rect x="497.06" y="318.25" width="7.2" height="22.2" fill="#fff" stroke="#000" stroke-width="1.3"/>
<rect x="503.46" y="296.5" width="7.9" height="43.95" fill="#808080"/>
<rect x="510.66" y="300.84" width="8.35" height="39.61" fill="#000"/>
<rect x="529.05" y="318.25" width="7.2" height="22.2" fill="#fff" stroke="#000" stroke-width="1.3"/>
<rect x="535.45" y="285.39" width="7.9" height="55.06" fill="#808080"/>
<rect x="542.65" y="319.2" width="8.35" height="21.25" fill="#000"/>
<rect x="561.04" y="252.75" width="7.2" height="87.7" fill="#fff" stroke="#000" stroke-width="1.3"/>
<rect x="567.44" y="285.39" width="7.9" height="55.06" fill="#808080"/>
<rect x="574.64" y="293.21" width="8.35" height="47.24" fill="#000"/>
<rect x="593.03" y="228.89" width="7.2" height="111.56" fill="#fff" stroke="#000" stroke-width="1.3"/>
<rect x="599.43" y="325.96" width="7.9" height="14.49" fill="#808080"/>
<rect x="606.63" y="302.1" width="8.35" height="38.35" fill="#000"/>
<rect x="625.02" y="289.03" width="7.2" height="51.42" fill="#fff" stroke="#000" stroke-width="1.3"/>
<rect x="631.42" y="295.53" width="7.9" height="44.92" fill="#808080"/>
<rect x="638.62" y="281.52" width="8.35" height="58.93" fill="#000"/>
<rect x="657.01" y="269.13" width="7.2" height="71.32" fill="#fff" stroke="#000" stroke-width="1.3"/>
<rect x="663.41" y="266.07" width="7.9" height="74.38" fill="#808080"/>
<rect x="670.61" y="298.57" width="8.35" height="41.88" fill="#000"/>
<path d="M404.29 253.51V280.56M402.09 253.51H406.49M402.09 280.56H406.49" stroke="#222" stroke-width="0.6" fill="none"/>
<path d="M411.69 263.41V284.66M409.49 263.41H413.89M409.49 284.66H413.89" stroke="#222" stroke-width="0.6" fill="none"/>
<path d="M419.09 304.47V319.92M416.89 304.47H421.29M416.89 319.92H421.29" stroke="#000" stroke-width="0.6" fill="none"/>
<path d="M436.28 272.83V289.25M434.08 272.83H438.48M434.08 289.25H438.48" stroke="#222" stroke-width="0.6" fill="none"/>
<path d="M443.68 282.35V288.43M441.48 282.35H445.88M441.48 288.43H445.88" stroke="#222" stroke-width="0.6" fill="none"/>
<path d="M451.08 291.09V306.06M448.88 291.09H453.28M448.88 306.06H453.28" stroke="#000" stroke-width="0.6" fill="none"/>
<path d="M468.27 302.53V303.02M466.07 302.53H470.47M466.07 303.02H470.47" stroke="#222" stroke-width="0.6" fill="none"/>
<path class="as" transform="translate(468.27 297.4)" d="M0 -2.3V2.3M-1.8 -1.05L1.8 1.05M-1.8 1.05L1.8 -1.05"/>
<path d="M475.67 278.67V281.96M473.47 278.67H477.87M473.47 281.96H477.87" stroke="#222" stroke-width="0.6" fill="none"/>
<path d="M483.07 296.26V300.89M480.87 296.26H485.27M480.87 300.89H485.27" stroke="#000" stroke-width="0.6" fill="none"/>
<path d="M500.26 315.82V319.68M498.06 315.82H502.46M498.06 319.68H502.46" stroke="#222" stroke-width="0.6" fill="none"/>
<path class="as" transform="translate(500.26 312.32)" d="M0 -2.3V2.3M-1.8 -1.05L1.8 1.05M-1.8 1.05L1.8 -1.05"/>
<path d="M507.66 296.26V296.74M505.46 296.26H509.86M505.46 296.74H509.86" stroke="#222" stroke-width="0.6" fill="none"/>
<path class="as" transform="translate(507.66 292.05)" d="M0 -2.3V2.3M-1.8 -1.05L1.8 1.05M-1.8 1.05L1.8 -1.05"/>
<path d="M515.06 298.91V302.78M512.86 298.91H517.26M512.86 302.78H517.26" stroke="#000" stroke-width="0.6" fill="none"/>
<path d="M532.25 304.42V331.08M530.05 304.42H534.45M530.05 331.08H534.45" stroke="#222" stroke-width="0.6" fill="none"/>
<path class="as" transform="translate(532.25 299.75)" d="M0 -2.3V2.3M-1.8 -1.05L1.8 1.05M-1.8 1.05L1.8 -1.05"/>
<path d="M539.65 276.5V294.28M537.45 276.5H541.85M537.45 294.28H541.85" stroke="#222" stroke-width="0.6" fill="none"/>
<path d="M547.05 317.27V321.13M544.85 317.27H549.25M544.85 321.13H549.25" stroke="#000" stroke-width="0.6" fill="none"/>
<path d="M564.24 244.28V260.22M562.04 244.28H566.44M562.04 260.22H566.44" stroke="#222" stroke-width="0.6" fill="none"/>
<path class="as" transform="translate(564.24 239.38)" d="M0 -2.3V2.3M-1.8 -1.05L1.8 1.05M-1.8 1.05L1.8 -1.05"/>
<path d="M579.04 283.55V302.87M576.84 283.55H581.24M576.84 302.87H581.24" stroke="#000" stroke-width="0.6" fill="none"/>
<path d="M596.23 225.35V231.44M594.03 225.35H598.43M594.03 231.44H598.43" stroke="#222" stroke-width="0.6" fill="none"/>
<path class="as" transform="translate(596.23 221.85)" d="M0 -2.3V2.3M-1.8 -1.05L1.8 1.05M-1.8 1.05L1.8 -1.05"/>
<path d="M603.63 320.16V331.76M601.43 320.16H605.83M601.43 331.76H605.83" stroke="#222" stroke-width="0.6" fill="none"/>
<path class="as" transform="translate(603.63 315.5)" d="M0 -2.3V2.3M-1.8 -1.05L1.8 1.05M-1.8 1.05L1.8 -1.05"/>
<path d="M611.03 300.46V303.74M608.83 300.46H613.23M608.83 303.74H613.23" stroke="#000" stroke-width="0.6" fill="none"/>
<path d="M628.22 262.45V314.61M626.02 262.45H630.42M626.02 314.61H630.42" stroke="#222" stroke-width="0.6" fill="none"/>
<path d="M635.62 294.08V296.98M633.42 294.08H637.82M633.42 296.98H637.82" stroke="#222" stroke-width="0.6" fill="none"/>
<path class="as" transform="translate(635.62 289.65)" d="M0 -2.3V2.3M-1.8 -1.05L1.8 1.05M-1.8 1.05L1.8 -1.05"/>
<path d="M643.02 275.25V287.8M640.82 275.25H645.22M640.82 287.8H645.22" stroke="#000" stroke-width="0.6" fill="none"/>
<path d="M660.21 259.26V278M658.01 259.26H662.41M658.01 278H662.41" stroke="#222" stroke-width="0.6" fill="none"/>
<path d="M667.61 256.41V275.73M665.41 256.41H669.81M665.41 275.73H669.81" stroke="#222" stroke-width="0.6" fill="none"/>
<path d="M675.01 288.53V308.62M672.81 288.53H677.21M672.81 308.62H677.21" stroke="#000" stroke-width="0.6" fill="none"/>
<path class="as" transform="translate(675.01 284.33)" d="M0 -2.3V2.3M-1.8 -1.05L1.8 1.05M-1.8 1.05L1.8 -1.05"/>
<path d="M395.7 195.55H683.6V340.45" stroke="#000" stroke-width="1.25" fill="none" stroke-linecap="square"/>
<path d="M395.7 195.55V340.45H683.6" stroke="#000" stroke-width="1.25" fill="none" stroke-linecap="square"/>
<text class="tk" transform="translate(387.2 344.05) scale(1.07 1)">0</text>
<text class="tk" transform="translate(387.2 319.9) scale(1.07 1)">5</text>
<text class="tk" transform="translate(387.2 295.75) scale(1.07 1)">10</text>
<text class="tk" transform="translate(387.2 271.6) scale(1.07 1)">15</text>
<text class="tk" transform="translate(387.2 247.45) scale(1.07 1)">20</text>
<text class="tk" transform="translate(387.2 223.3) scale(1.07 1)">25</text>
<text class="tk" transform="translate(387.2 199.15) scale(1.07 1)">30</text>
<path d="M392.4 340.45H395.7M392.4 316.3H395.7M392.4 292.15H395.7M392.4 268H395.7M392.4 243.85H395.7M392.4 219.7H395.7M392.4 195.55H395.7M395.7 340.45V344.05M427.69 340.45V344.05M459.68 340.45V344.05M491.67 340.45V344.05M523.66 340.45V344.05M555.64 340.45V344.05M587.63 340.45V344.05M619.62 340.45V344.05M651.61 340.45V344.05M683.6 340.45V344.05" stroke="#666" stroke-width="0.7" fill="none"/>
<text class="ct" transform="translate(414.59 353.45) rotate(-45) scale(0.945 1)">C</text>
<text class="ct" transform="translate(446.58 353.45) rotate(-45) scale(0.945 1)">150</text>
<text class="ct" transform="translate(478.57 353.45) rotate(-45) scale(0.945 1)">300</text>
<text class="ct" transform="translate(510.56 353.45) rotate(-45) scale(0.945 1)">pSAC</text>
<text class="ct" transform="translate(542.55 353.45) rotate(-45) scale(0.945 1)">pSA150</text>
<text class="ct" transform="translate(574.54 353.45) rotate(-45) scale(0.945 1)">pSA300</text>
<text class="ct" transform="translate(606.53 353.45) rotate(-45) scale(0.945 1)">cSAC</text>
<text class="ct" transform="translate(638.52 353.45) rotate(-45) scale(0.945 1)">cSA150</text>
<text class="ct" transform="translate(670.51 353.45) rotate(-45) scale(0.945 1)">cSA300</text>
<text class="yt" transform="translate(362.85 216.1) rotate(-90) scale(0.972 1)">APX&#160;&#160;(U mg<tspan class="sup" dy="-3.8">-1</tspan><tspan dy="3.8"> protein)</tspan></text>
<rect x="437.05" y="201.55" width="5.0" height="4.6" fill="#fff" stroke="#000" stroke-width="1.1"/>
<text class="lg" x="444.4" y="207.3">Akhisar</text>
<rect x="520.2" y="200.9" width="6.4" height="6.0" fill="#808080"/>
<text class="lg" x="527.8" y="207.3">Erginel</text>
<rect x="602.6" y="200.9" width="6.4" height="6.0" fill="#000"/>
<text class="lg" x="610.2" y="207.3">Kalaycı</text>
<text class="pl" style="font-size:13.3px" transform="translate(404.4 213) scale(1 1)">D</text>
</g>
<g>
<rect x="51.31" y="504.22" width="7.2" height="28.18" fill="#fff" stroke="#000" stroke-width="1.3"/>
<rect x="57.71" y="509.93" width="7.9" height="22.47" fill="#808080"/>
<rect x="64.91" y="497.86" width="8.35" height="34.54" fill="#000"/>
<rect x="83.63" y="507.45" width="7.2" height="24.95" fill="#fff" stroke="#000" stroke-width="1.3"/>
<rect x="90.03" y="483.29" width="7.9" height="49.11" fill="#808080"/>
<rect x="97.23" y="481.37" width="8.35" height="51.03" fill="#000"/>
<rect x="115.96" y="511.51" width="7.2" height="20.89" fill="#fff" stroke="#000" stroke-width="1.3"/>
<rect x="122.36" y="483.29" width="7.9" height="49.11" fill="#808080"/>
<rect x="129.56" y="420.91" width="8.35" height="111.49" fill="#000"/>
<rect x="148.28" y="510.43" width="7.2" height="21.97" fill="#fff" stroke="#000" stroke-width="1.3"/>
<rect x="154.68" y="497.39" width="7.9" height="35.01" fill="#808080"/>
<rect x="161.88" y="466.91" width="8.35" height="65.49" fill="#000"/>
<rect x="180.6" y="508.76" width="7.2" height="23.64" fill="#fff" stroke="#000" stroke-width="1.3"/>
<rect x="187" y="497.39" width="7.9" height="35.01" fill="#808080"/>
<rect x="194.2" y="473.25" width="8.35" height="59.15" fill="#000"/>
<rect x="212.92" y="492.27" width="7.2" height="40.13" fill="#fff" stroke="#000" stroke-width="1.3"/>
<rect x="219.32" y="462.97" width="7.9" height="69.43" fill="#808080"/>
<rect x="226.52" y="468.83" width="8.35" height="63.57" fill="#000"/>
<rect x="245.24" y="474.58" width="7.2" height="57.82" fill="#fff" stroke="#000" stroke-width="1.3"/>
<rect x="251.64" y="496.31" width="7.9" height="36.09" fill="#808080"/>
<rect x="258.84" y="468.11" width="8.35" height="64.29" fill="#000"/>
<rect x="277.57" y="497.29" width="7.2" height="35.11" fill="#fff" stroke="#000" stroke-width="1.3"/>
<rect x="283.97" y="475.88" width="7.9" height="56.52" fill="#808080"/>
<rect x="291.17" y="461.18" width="8.35" height="71.22" fill="#000"/>
<rect x="309.89" y="483.67" width="7.2" height="48.73" fill="#fff" stroke="#000" stroke-width="1.3"/>
<rect x="316.29" y="463.81" width="7.9" height="68.59" fill="#808080"/>
<rect x="323.49" y="466.2" width="8.35" height="66.2" fill="#000"/>
<path d="M61.91 508.74V511.13M59.71 508.74H64.11M59.71 511.13H64.11" stroke="#222" stroke-width="0.6" fill="none"/>
<path d="M94.23 482.09V484.48M92.03 482.09H96.43M92.03 484.48H96.43" stroke="#222" stroke-width="0.6" fill="none"/>
<path class="as" transform="translate(95.17 476.49)" d="M0 -2.3V2.3M-1.8 -1.05L1.8 1.05M-1.8 1.05L1.8 -1.05"/>
<path d="M101.63 480.66V482.09M99.43 480.66H103.83M99.43 482.09H103.83" stroke="#000" stroke-width="0.6" fill="none"/>
<path class="as" transform="translate(101.63 474.59)" d="M0 -2.3V2.3M-1.8 -1.05L1.8 1.05M-1.8 1.05L1.8 -1.05"/>
<path d="M119.16 510.41V511.61M116.96 510.41H121.36M116.96 511.61H121.36" stroke="#222" stroke-width="0.6" fill="none"/>
<path class="as" transform="translate(119.16 506.91)" d="M0 -2.3V2.3M-1.8 -1.05L1.8 1.05M-1.8 1.05L1.8 -1.05"/>
<path d="M126.56 480.18V486.39M124.36 480.18H128.76M124.36 486.39H128.76" stroke="#222" stroke-width="0.6" fill="none"/>
<path class="as" transform="translate(126.56 475.51)" d="M0 -2.3V2.3M-1.8 -1.05L1.8 1.05M-1.8 1.05L1.8 -1.05"/>
<path d="M133.96 406.45V435.37M131.76 406.45H136.16M131.76 435.37H136.16" stroke="#000" stroke-width="0.6" fill="none"/>
<path class="as" transform="translate(133.96 402.95)" d="M0 -2.3V2.3M-1.8 -1.05L1.8 1.05M-1.8 1.05L1.8 -1.05"/>
<path d="M151.48 509.1V510.77M149.28 509.1H153.68M149.28 510.77H153.68" stroke="#222" stroke-width="0.6" fill="none"/>
<path d="M158.88 493.32V501.45M156.68 493.32H161.08M156.68 501.45H161.08" stroke="#222" stroke-width="0.6" fill="none"/>
<path class="as" transform="translate(158.88 489.12)" d="M0 -2.3V2.3M-1.8 -1.05L1.8 1.05M-1.8 1.05L1.8 -1.05"/>
<path d="M166.28 465.72V468.11M164.08 465.72H168.48M164.08 468.11H168.48" stroke="#000" stroke-width="0.6" fill="none"/>
<path class="as" transform="translate(166.28 460.58)" d="M0 -2.3V2.3M-1.8 -1.05L1.8 1.05M-1.8 1.05L1.8 -1.05"/>
<path d="M183.8 506.47V510.05M181.6 506.47H186M181.6 510.05H186" stroke="#222" stroke-width="0.6" fill="none"/>
<path d="M191.2 495.71V499.06M189 495.71H193.4M189 499.06H193.4" stroke="#222" stroke-width="0.6" fill="none"/>
<path class="as" transform="translate(191.2 491.05)" d="M0 -2.3V2.3M-1.8 -1.05L1.8 1.05M-1.8 1.05L1.8 -1.05"/>
<path d="M198.6 465.72V480.78M196.4 465.72H200.8M196.4 480.78H200.8" stroke="#000" stroke-width="0.6" fill="none"/>
<path class="as" transform="translate(198.6 462.22)" d="M0 -2.3V2.3M-1.8 -1.05L1.8 1.05M-1.8 1.05L1.8 -1.05"/>
<path d="M223.52 453.41V472.53M221.32 453.41H225.72M221.32 472.53H225.72" stroke="#222" stroke-width="0.6" fill="none"/>
<path class="as" transform="translate(223.52 449.91)" d="M0 -2.3V2.3M-1.8 -1.05L1.8 1.05M-1.8 1.05L1.8 -1.05"/>
<path d="M230.92 461.3V476.35M228.72 461.3H233.12M228.72 476.35H233.12" stroke="#000" stroke-width="0.6" fill="none"/>
<path class="as" transform="translate(230.92 457.1)" d="M0 -2.3V2.3M-1.8 -1.05L1.8 1.05M-1.8 1.05L1.8 -1.05"/>
<path d="M248.44 463.57V484.6M246.24 463.57H250.64M246.24 484.6H250.64" stroke="#222" stroke-width="0.6" fill="none"/>
<path class="as" transform="translate(248.44 460.07)" d="M0 -2.3V2.3M-1.8 -1.05L1.8 1.05M-1.8 1.05L1.8 -1.05"/>
<path d="M255.84 495.35V497.27M253.64 495.35H258.04M253.64 497.27H258.04" stroke="#222" stroke-width="0.6" fill="none"/>
<path class="as" transform="translate(255.84 490.69)" d="M0 -2.3V2.3M-1.8 -1.05L1.8 1.05M-1.8 1.05L1.8 -1.05"/>
<path d="M263.24 452.69V483.52M261.04 452.69H265.44M261.04 483.52H265.44" stroke="#000" stroke-width="0.6" fill="none"/>
<path class="as" transform="translate(263.24 448.26)" d="M0 -2.3V2.3M-1.8 -1.05L1.8 1.05M-1.8 1.05L1.8 -1.05"/>
<path d="M280.77 496.43V497.15M278.57 496.43H282.97M278.57 497.15H282.97" stroke="#222" stroke-width="0.6" fill="none"/>
<path class="as" transform="translate(280.77 492.93)" d="M0 -2.3V2.3M-1.8 -1.05L1.8 1.05M-1.8 1.05L1.8 -1.05"/>
<path d="M288.17 474.68V477.07M285.97 474.68H290.37M285.97 477.07H290.37" stroke="#222" stroke-width="0.6" fill="none"/>
<path class="as" transform="translate(288.17 469.55)" d="M0 -2.3V2.3M-1.8 -1.05L1.8 1.05M-1.8 1.05L1.8 -1.05"/>
<path d="M295.57 458.79V463.57M293.37 458.79H297.77M293.37 463.57H297.77" stroke="#000" stroke-width="0.6" fill="none"/>
<path class="as" transform="translate(295.57 454.12)" d="M0 -2.3V2.3M-1.8 -1.05L1.8 1.05M-1.8 1.05L1.8 -1.05"/>
<path d="M313.09 482.57V483.76M310.89 482.57H315.29M310.89 483.76H315.29" stroke="#222" stroke-width="0.6" fill="none"/>
<path class="as" transform="translate(313.09 477.43)" d="M0 -2.3V2.3M-1.8 -1.05L1.8 1.05M-1.8 1.05L1.8 -1.05"/>
<path d="M320.49 462.85V464.76M318.29 462.85H322.69M318.29 464.76H322.69" stroke="#222" stroke-width="0.6" fill="none"/>
<path class="as" transform="translate(320.49 457.48)" d="M0 -2.3V2.3M-1.8 -1.05L1.8 1.05M-1.8 1.05L1.8 -1.05"/>
<path d="M327.89 453.05V479.34M325.69 453.05H330.09M325.69 479.34H330.09" stroke="#000" stroke-width="0.6" fill="none"/>
<path class="as" transform="translate(327.89 449.55)" d="M0 -2.3V2.3M-1.8 -1.05L1.8 1.05M-1.8 1.05L1.8 -1.05"/>
<path d="M45.75 389H336.65V532.4" stroke="#000" stroke-width="1.25" fill="none" stroke-linecap="square"/>
<path d="M45.75 389V532.4H336.65" stroke="#000" stroke-width="1.25" fill="none" stroke-linecap="square"/>
<text class="tk" transform="translate(37.25 536) scale(1.07 1)">0</text>
<text class="tk" transform="translate(37.25 512.1) scale(1.07 1)">2</text>
<text class="tk" transform="translate(37.25 488.2) scale(1.07 1)">4</text>
<text class="tk" transform="translate(37.25 464.3) scale(1.07 1)">6</text>
<text class="tk" transform="translate(37.25 440.4) scale(1.07 1)">8</text>
<text class="tk" transform="translate(37.25 416.5) scale(1.07 1)">10</text>
<text class="tk" transform="translate(37.25 392.6) scale(1.07 1)">12</text>
<path d="M42.45 532.4H45.75M42.45 508.5H45.75M42.45 484.6H45.75M42.45 460.7H45.75M42.45 436.8H45.75M42.45 412.9H45.75M42.45 389H45.75M45.75 532.4V536M78.07 532.4V536M110.39 532.4V536M142.72 532.4V536M175.04 532.4V536M207.36 532.4V536M239.68 532.4V536M272.01 532.4V536M304.33 532.4V536M336.65 532.4V536" stroke="#666" stroke-width="0.7" fill="none"/>
<text class="ct" transform="translate(64.81 545.4) rotate(-45) scale(0.945 1)">C</text>
<text class="ct" transform="translate(97.13 545.4) rotate(-45) scale(0.945 1)">150</text>
<text class="ct" transform="translate(129.46 545.4) rotate(-45) scale(0.945 1)">300</text>
<text class="ct" transform="translate(161.78 545.4) rotate(-45) scale(0.945 1)">pSAC</text>
<text class="ct" transform="translate(194.1 545.4) rotate(-45) scale(0.945 1)">pSA150</text>
<text class="ct" transform="translate(226.42 545.4) rotate(-45) scale(0.945 1)">pSA300</text>
<text class="ct" transform="translate(258.74 545.4) rotate(-45) scale(0.945 1)">cSAC</text>
<text class="ct" transform="translate(291.07 545.4) rotate(-45) scale(0.945 1)">cSA150</text>
<text class="ct" transform="translate(323.39 545.4) rotate(-45) scale(0.945 1)">cSA300</text>
<text class="yt" transform="translate(17.2 410.9) rotate(-90) scale(0.972 1)">GR&#160;&#160;(U mg<tspan class="sup" dy="-3.8">-1</tspan><tspan dy="3.8"> protein)</tspan></text>
<rect x="78.75" y="392.75" width="5.0" height="4.6" fill="#fff" stroke="#000" stroke-width="1.1"/>
<text class="lg" x="86" y="398.5">Akhisar</text>
<rect x="166.3" y="392.1" width="6.4" height="6.0" fill="#808080"/>
<text class="lg" x="173.1" y="398.5">Erginel</text>
<rect x="252.2" y="392.1" width="6.4" height="6.0" fill="#000"/>
<text class="lg" x="259.7" y="398.5">Kalaycı</text>
<text class="pl" style="font-size:13px" transform="translate(55 404.9) scale(0.92 1)">E</text>
</g>
</svg>
</body></html>
